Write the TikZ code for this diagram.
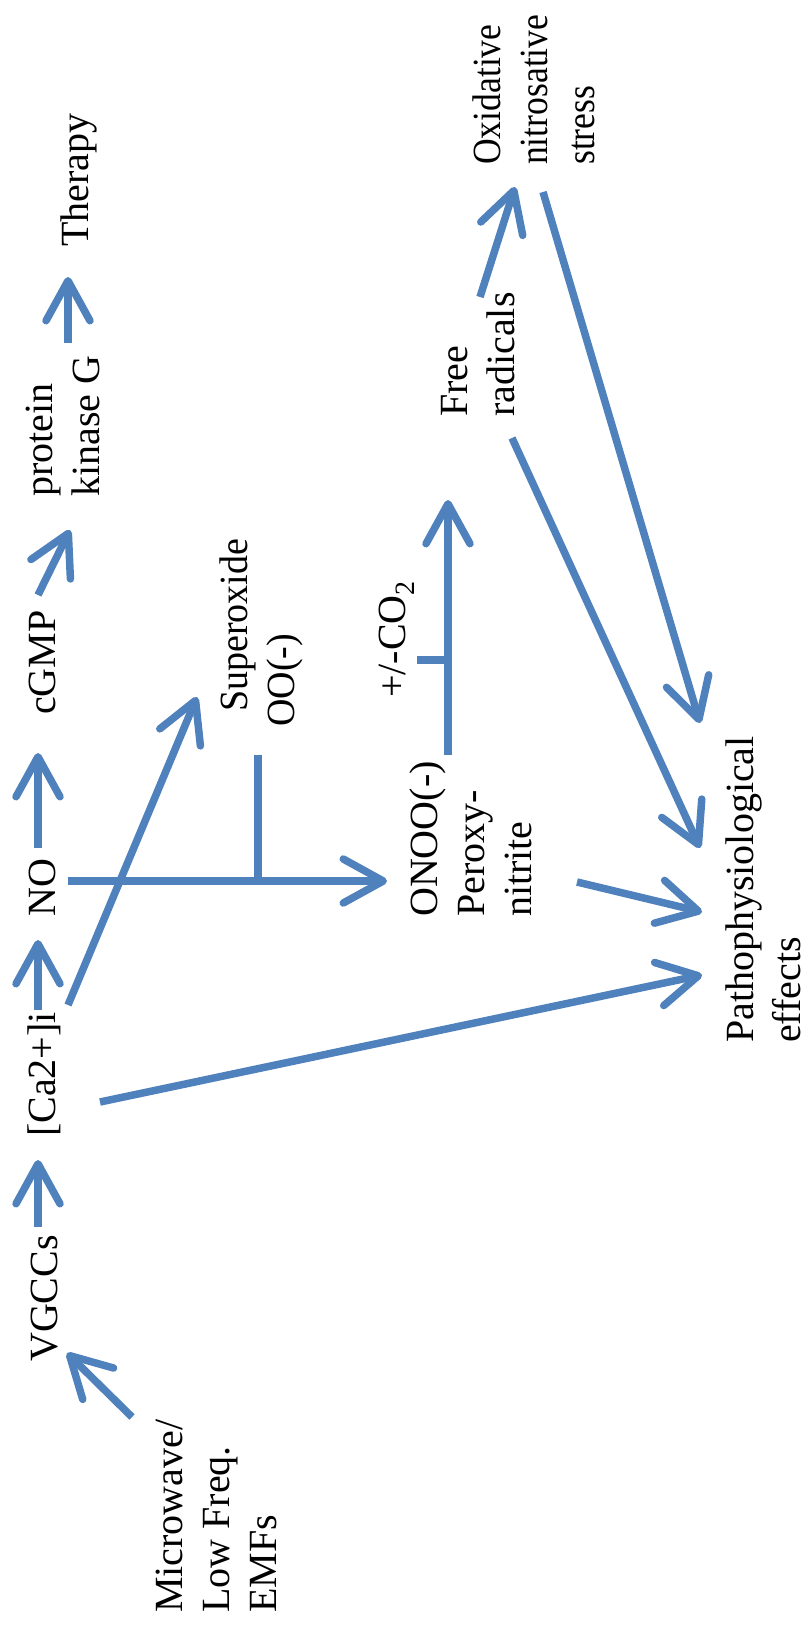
\documentclass[tikz,border=0pt]{standalone}
\usepackage{fontspec}
\setmainfont{Liberation Serif}
\newfontfamily\narrowA{Liberation Serif}[FakeStretch=0.89]
\newfontfamily\narrowB{Liberation Serif}[FakeStretch=0.95]
\usetikzlibrary{arrows.meta}
\definecolor{arrblue}{RGB}{79,129,189}
\begin{document}
\begin{tikzpicture}[x=1pt,y=-1pt,
  lbl/.style={rotate=90, inner sep=0pt, font=\fontsize{40}{47}\selectfont},
  mlbl/.style={lbl, align=left, anchor=north west},
  conn/.style={draw=arrblue, line width=7.5pt},
  arr/.style={conn, -{Straight Barb[length=40pt,width=44pt,round]}}]
\fill[white] (0,0) rectangle (803,1630);
\useasboundingbox (0,0) rectangle (803,1630);

% labels
\node[lbl, anchor=base west] (therapy) at (88,247) {Therapy};
\node[lbl, anchor=base west] (cgmp) at (55,715) {cGMP};
\node[lbl, anchor=base west] (no) at (55,917) {NO};
\node[lbl, anchor=base west] (ca) at (55,1137) {[Ca2+]i};
\node[lbl, anchor=base west] (vgcc) at (57,1362) {VGCCs};
\node[lbl, anchor=base west] (co2) at (405,698) {+/-CO\textsubscript{2}};
\node[mlbl] (pkg) at (25.5,497) {protein\\kinase G};
\node[mlbl, font=\fontsize{40}{47}\narrowB] (sup) at (219.5,727) {\hspace*{15pt}Superoxide\\OO(-)};
\node[mlbl] (onoo) at (409.5,917) {ONOO(-)\\Peroxy-\\nitrite};
\node[mlbl] (fr) at (441.5,417) {Free\\radicals};
\node[mlbl, font=\fontsize{40}{47}\narrowA] (ox) at (472.5,165) {Oxidative\\nitrosative\\stress};
\node[mlbl] (patho) at (725.5,1043) {Pathophysiological\\effects};
\node[mlbl] (mw) at (155.5,1613) {Microwave/\\Low Freq.\\EMFs};

% connector end points
\coordinate (mwO) at (132,1417); \coordinate (vgccI) at (67,1353);
\coordinate (vgccO) at (38,1227); \coordinate (caI) at (38,1160);
\coordinate (caO) at (38,1010); \coordinate (noI) at (38,940);
\coordinate (noO) at (38,848); \coordinate (cgmpI) at (38,753);
\coordinate (cgmpO) at (38,595); \coordinate (pkgI) at (70,530);
\coordinate (pkgO) at (68,343); \coordinate (therapyI) at (68,277);
\coordinate (caS) at (68,1005); \coordinate (supI) at (197,697);
\coordinate (supO) at (258,755); \coordinate (tj) at (258,881);
\coordinate (noR) at (68,881); \coordinate (onooI) at (387,881);
\coordinate (onooO) at (448,755); \coordinate (frI) at (448,500);
\coordinate (co2t) at (417,660); \coordinate (co2j) at (448,660);
\coordinate (frO) at (480,297); \coordinate (oxI) at (515,187);
\coordinate (oxO) at (543,192); \coordinate (pA) at (700,723);
\coordinate (frP) at (512,438); \coordinate (pB) at (700,848);
\coordinate (onooP) at (577,882); \coordinate (pC) at (702,912);
\coordinate (caP) at (100,1102); \coordinate (pD) at (702,975);

% connectors
\draw[arr] (mwO) -- (vgccI);
\draw[arr] (vgccO) -- (caI);
\draw[arr] (caO) -- (noI);
\draw[arr] (noO) -- (cgmpI);
\draw[arr] (cgmpO) -- (pkgI);
\draw[arr] (pkgO) -- (therapyI);
\draw[arr] (caS) -- (supI);
\draw[conn] (supO) -- (tj);
\draw[arr] (noR) -- (onooI);
\draw[arr] (onooO) -- (frI);
\draw[conn] (co2t) -- (co2j);
\draw[arr] (frO) -- (oxI);
\draw[arr] (oxO) -- (pA);
\draw[arr] (frP) -- (pB);
\draw[arr] (onooP) -- (pC);
\draw[arr] (caP) -- (pD);
\end{tikzpicture}
\end{document}
